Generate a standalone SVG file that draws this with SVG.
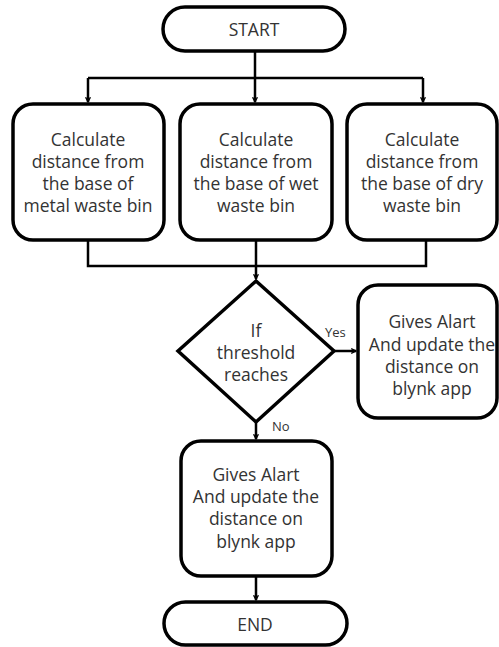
<svg xmlns="http://www.w3.org/2000/svg" width="499" height="647" viewBox="0 0 499 647">
<style>
.s{fill:#fff;stroke:#000;stroke-width:3.5}
.t{font-family:"Open Sans",sans-serif;font-size:17.5px;fill:#333;text-anchor:middle}
.l{font-family:"Open Sans",sans-serif;font-size:13px;fill:#333}
.c{fill:none;stroke:#000;stroke-width:2.5}
</style>
<defs>
<marker id="a" viewBox="0 0 10 10" refX="9" refY="5" markerWidth="6" markerHeight="6" orient="auto" markerUnits="userSpaceOnUse">
<path d="M1,1 L9,5 L1,9" fill="none" stroke="#000" stroke-width="2.2"/>
</marker>
</defs>
<rect width="499" height="647" fill="#fff"/>
<g id="connectors">
<path class="c" d="M255,51 V102" marker-end="url(#a)"/>
<path class="c" d="M88,78 H423"/>
<path class="c" d="M88,78 V102" marker-end="url(#a)"/>
<path class="c" d="M423,78 V102" marker-end="url(#a)"/>
<path class="c" d="M88,240 V266 H426 V240"/>
<path class="c" d="M256,240 V279" marker-end="url(#a)"/>
<path class="c" d="M334,351 H356" marker-end="url(#a)"/>
<path class="c" d="M256,422 V439" marker-end="url(#a)"/>
<path class="c" d="M256,576 V600" marker-end="url(#a)"/>
<text class="l" x="325" y="337">Yes</text>
<text class="l" x="272" y="431">No</text>
</g>
<g id="start">
<rect class="s" x="163" y="7" width="182" height="44" rx="22"/>
<text class="t" x="254" y="36">START</text>
</g>
<g id="metal">
<rect class="s" x="13" y="104" width="151" height="136" rx="20"/>
<text class="t" x="88" y="146">Calculate</text>
<text class="t" x="88" y="168">distance from</text>
<text class="t" x="88" y="190">the base of</text>
<text class="t" x="88" y="212">metal waste bin</text>
</g>
<g id="wet">
<rect class="s" x="180" y="104" width="152" height="136" rx="20"/>
<text class="t" x="256" y="146">Calculate</text>
<text class="t" x="256" y="168">distance from</text>
<text class="t" x="256" y="190">the base of wet</text>
<text class="t" x="256" y="212">waste bin</text>
</g>
<g id="dry">
<rect class="s" x="347" y="104" width="150" height="136" rx="20"/>
<text class="t" x="422" y="146">Calculate</text>
<text class="t" x="422" y="168">distance from</text>
<text class="t" x="422" y="190">the base of dry</text>
<text class="t" x="422" y="212">waste bin</text>
</g>
<g id="decision">
<polygon class="s" points="256,281 334,351 256,422 178,351"/>
<text class="t" x="256" y="337">If</text>
<text class="t" x="256" y="359">threshold</text>
<text class="t" x="256" y="381">reaches</text>
</g>
<g id="alert-yes">
<rect class="s" x="358" y="285" width="139" height="133" rx="20"/>
<text class="t" x="432" y="328">Gives Alart</text>
<text class="t" x="432" y="351">And update the</text>
<text class="t" x="432" y="373">distance on</text>
<text class="t" x="432" y="395">blynk app</text>
</g>
<g id="alert-no">
<rect class="s" x="181" y="441" width="151" height="135" rx="20"/>
<text class="t" x="256" y="481">Gives Alart</text>
<text class="t" x="256" y="503">And update the</text>
<text class="t" x="256" y="525">distance on</text>
<text class="t" x="256" y="548">blynk app</text>
</g>
<g id="end">
<rect class="s" x="164" y="602" width="183" height="43" rx="21.5"/>
<text class="t" x="255" y="631">END</text>
</g>
</svg>
